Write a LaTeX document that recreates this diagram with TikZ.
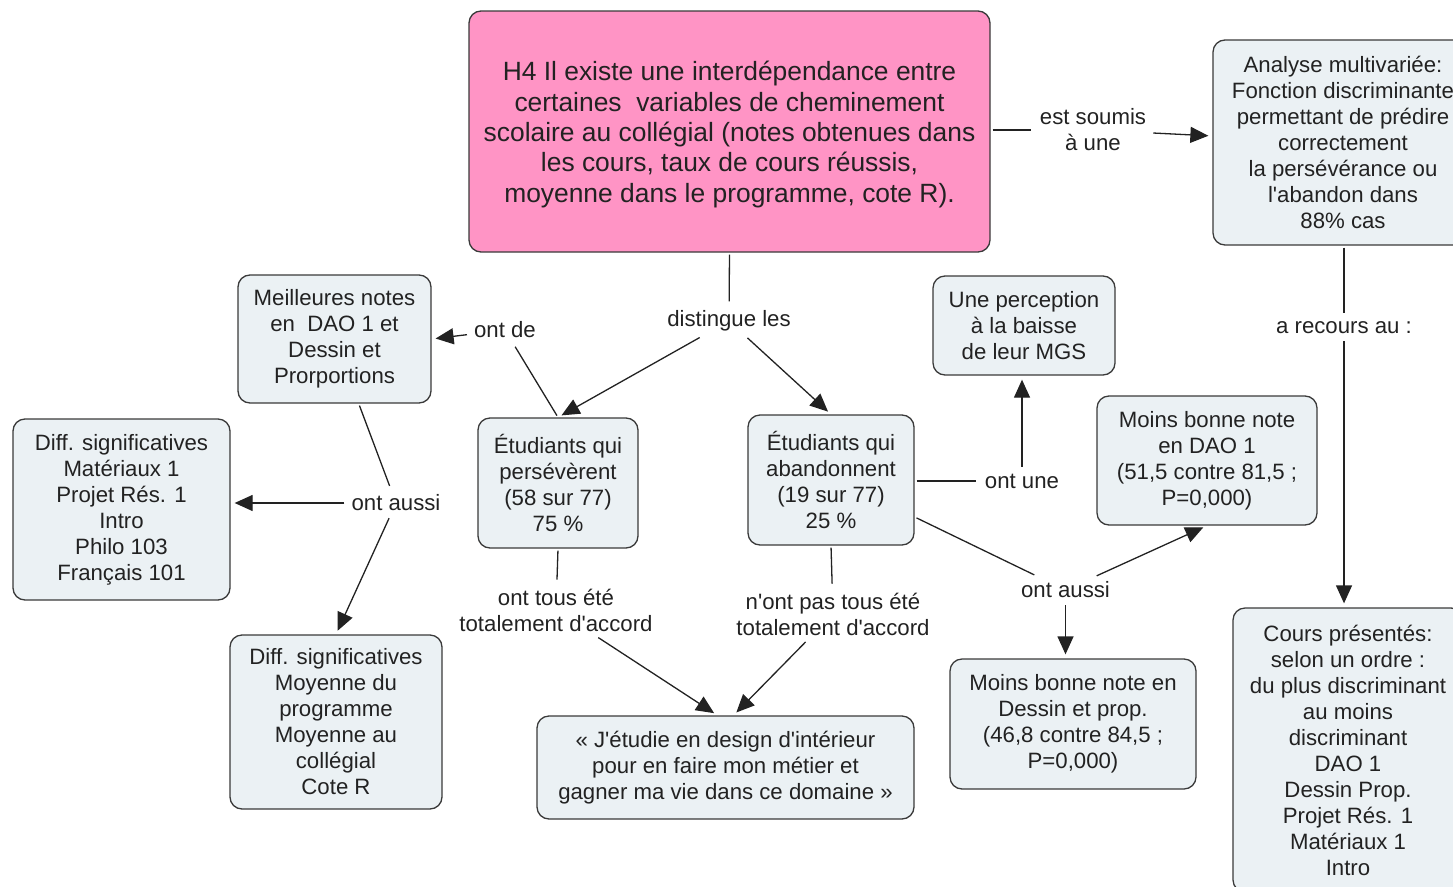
\documentclass[tikz,border=0pt]{standalone}
\usepackage{fontspec}
\setmainfont{Liberation Sans}
\usetikzlibrary{arrows.meta,calc}
\definecolor{boxfill}{HTML}{EBF1F4}
\definecolor{boxline}{HTML}{3A3A3A}
\definecolor{pinkfill}{HTML}{FF94C5}
\definecolor{inkcol}{HTML}{222222}
\newcommand{\ap}{\textquotesingle}
\tikzset{
  concept/.style={draw=boxline, line width=1.3pt, fill=boxfill, rounded corners=12pt,
    align=center, inner sep=0pt, text=inkcol,
    font=\fontsize{22.2}{26}\selectfont},
  hypo/.style={concept, fill=pinkfill, font=\fontsize{26.4}{30.4}\selectfont},
  phrase/.style={align=center, inner sep=5pt, text=inkcol,
    font=\fontsize{22.2}{26}\selectfont},
  link/.style={draw=inkcol, line width=1.3pt, shorten <=2pt, shorten >=4pt},
  arr/.style={link, -{Triangle[length=18pt,width=16pt]}}
}
\begin{document}
\begin{tikzpicture}[x=1pt,y=-1pt]
\useasboundingbox (0,0) rectangle (1453,886);
\clip (0,0) rectangle (1453,886);

% concepts
\node[hypo, minimum width=521pt, minimum height=241pt] (main) at (729.5,131.5)
  {\raisebox{-3pt}[\height][\depth]{\parbox{500pt}{\centering H4 Il existe une interdépendance entre\\certaines\ \ variables de cheminement\\scolaire au collégial (notes obtenues dans\\les cours, taux de cours réussis,\\moyenne dans le programme, cote R).}}};
\node[concept, minimum width=260pt, minimum height=205pt] (analyse) at (1343,142.5)
  {Analyse multivariée:\\Fonction discriminante\\permettant de prédire\\correctement\\la persévérance ou\\l\ap abandon dans\\88\% cas};
\node[concept, minimum width=193pt, minimum height=128pt] (meil) at (334.5,339)
  {Meilleures notes\\en\ \ DAO 1 et\\Dessin et\\Prorportions};
\node[concept, minimum width=217pt, minimum height=181pt] (diffL) at (121.5,509.5)
  {Diff. significatives\\Matériaux 1\\Projet Rés. 1\\Intro\\Philo 103\\Français 101};
\node[concept, minimum width=160pt, minimum height=130pt] (pers) at (558,483)
  {Étudiants qui\\persévèrent\\(58 sur 77)\\75 \%};
\node[concept, minimum width=166pt, minimum height=130pt] (aban) at (831,480)
  {Étudiants qui\\abandonnent\\(19 sur 77)\\25 \%};
\node[concept, minimum width=182pt, minimum height=99pt] (perc) at (1024,325.5)
  {Une perception\\à la baisse\\de leur MGS};
\node[concept, minimum width=220pt, minimum height=129pt] (moinsdao) at (1207,460.5)
  {Moins bonne note\\en DAO 1\\(51,5 contre 81,5 ;\\P=0,000)};
\node[concept, minimum width=212pt, minimum height=174pt] (diffM) at (336,722)
  {Diff. significatives\\Moyenne du\\programme\\Moyenne au\\collégial\\Cote R};
\node[concept, minimum width=377pt, minimum height=103pt] (etudie) at (725.5,767.5)
  {« J\ap étudie en design d\ap intérieur\\pour en faire mon métier et\\gagner ma vie dans ce domaine »};
\node[concept, minimum width=246pt, minimum height=130pt] (moinsdes) at (1073,724)
  {Moins bonne note en\\Dessin et prop.\\(46,8 contre 84,5 ;\\P=0,000)};
\node[concept, minimum width=230pt, minimum height=284pt] (cours) at (1348,750)
  {Cours présentés:\\selon un ordre :\\du plus discriminant\\au moins\\discriminant\\DAO 1\\Dessin Prop.\\Projet Rés. 1\\Matériaux 1\\Intro};

% linking phrases
\node[phrase] (soumis) at (1093,130) {est soumis\\à une};
\node[phrase] (dist) at (729,321) {distingue les};
\node[phrase] (ontde) at (505,330) {ont de};
\node[phrase] (aussiL) at (396,503) {ont aussi};
\node[phrase] (ontune) at (1022,481) {ont une};
\node[phrase] (aussiR) at (1065.5,590) {ont aussi};
\node[phrase] (tous) at (556,610) {ont tous été\\totalement d\ap accord};
\node[phrase] (pastous) at (833,614) {n\ap ont pas tous été\\totalement d\ap accord};
\node[phrase] (recours) at (1344,328) {a recours au :};

% connectors
\draw[link] (main.east |- soumis) -- (soumis);
\draw[arr] (soumis) -- (analyse);
\draw[link] (main.south) -- (dist);
\draw[arr] (dist) -- (pers.north);
\draw[arr] (dist) -- (aban.north);
\draw[link] (pers.north) -- (ontde);
\draw[arr] (ontde) -- (meil.east);
\draw[link] (meil) -- (aussiL);
\draw[arr] (aussiL.west) -- (aussiL.west -| diffL.east);
\draw[arr] (aussiL) -- (diffM.north);
\draw[link] (pers.south) -- (tous);
\draw[arr] (tous) -- ($(etudie.north)+(-8,0)$);
\draw[link] (aban.south) -- (pastous);
\draw[arr] (pastous) -- ($(etudie.north)+(8,0)$);
\draw[link] (aban.east |- ontune) -- (ontune);
\draw[arr] (ontune) -- (ontune |- perc.south);
\draw[link] ($(aban.east)+(0,37)$) -- (aussiR);
\draw[arr] (aussiR) -- (moinsdao.south);
\draw[arr] (aussiR.south) -- (aussiR.south |- moinsdes.north);
\draw[link] (analyse.south -| recours) -- (recours);
\draw[arr] (recours.south) -- (recours.south |- cours.north);
\end{tikzpicture}
\end{document}
